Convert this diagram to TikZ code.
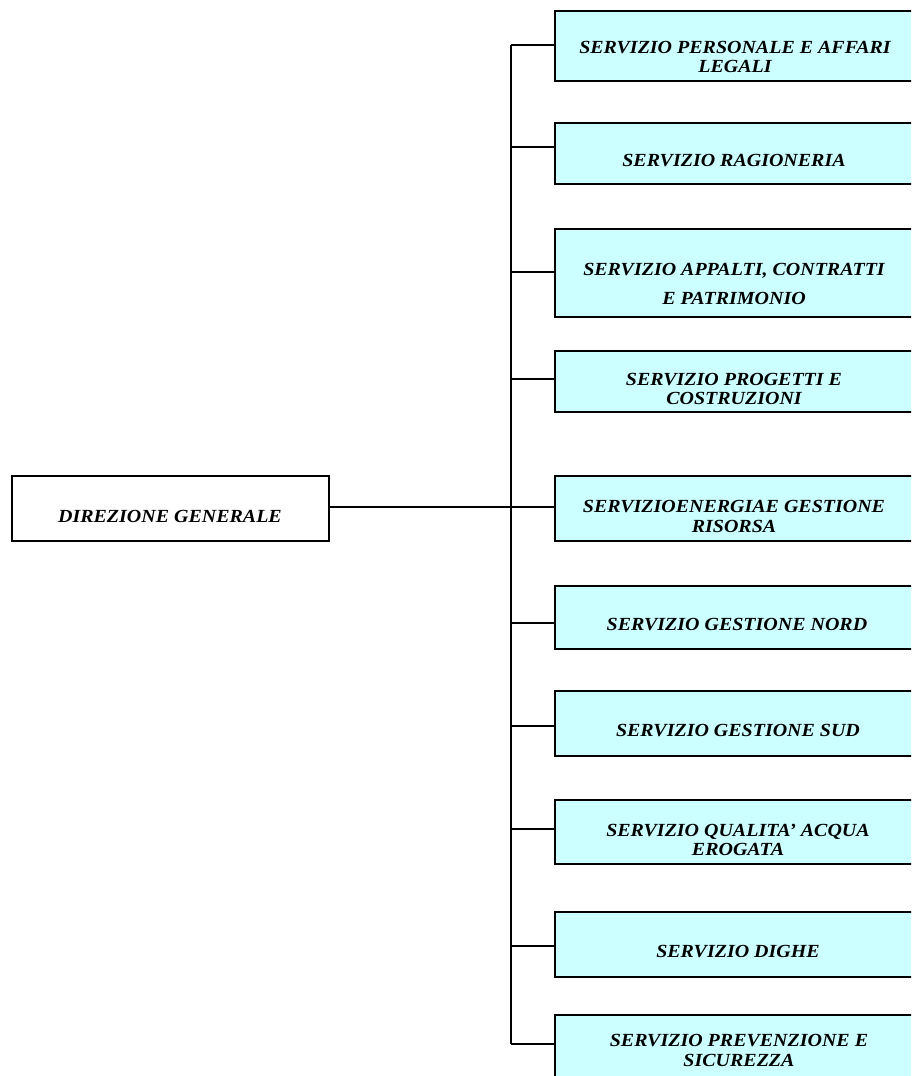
\documentclass[tikz,border=0pt]{standalone}
\usepackage{fontspec}
\newfontfamily\labelfont[FakeStretch=1.08]{Liberation Serif}
\definecolor{boxcyan}{RGB}{204,255,255}
\begin{document}
\begin{tikzpicture}[x=1pt,y=-1pt,
  servbox/.style={draw=black,line width=1.8pt,fill=boxcyan,rectangle,inner sep=0pt,minimum width=358pt},
  dirbox/.style={draw=black,line width=1.8pt,fill=white,rectangle,inner sep=0pt,minimum width=317pt,minimum height=65pt},
  lbl/.style={inner sep=0pt,align=center,font=\labelfont\fontsize{18.5}{19.5}\selectfont\bfseries\itshape},
  conn/.style={draw=black,line width=1.8pt}]
\useasboundingbox (0,0) rectangle (911,1076);
\clip (0,0) rectangle (911,1076);
\fill[white] (0,0) rectangle (911,1076);

% spine coordinates
\coordinate (s1) at (511,45);
\coordinate (s2) at (511,147);
\coordinate (s3) at (511,272);
\coordinate (s4) at (511,379);
\coordinate (s5) at (511,507);
\coordinate (s6) at (511,623);
\coordinate (s7) at (511,726);
\coordinate (s8) at (511,829);
\coordinate (s9) at (511,946);
\coordinate (s10) at (511,1044);

% connectors (drawn first, under the boxes)
\draw[conn] (s1) -- (s10);
\foreach \i in {1,...,10} {\draw[conn] (s\i) -- (555,0 |- s\i);}

% boxes
\node[servbox,minimum height=70pt] (b1) at (734,46) {};
\node[servbox,minimum height=61pt] (b2) at (734,153.5) {};
\node[servbox,minimum height=88pt] (b3) at (734,273) {};
\node[servbox,minimum height=61pt] (b4) at (734,381.5) {};
\node[servbox,minimum height=65pt] (b5) at (734,508.5) {};
\node[servbox,minimum height=63pt] (b6) at (734,617.5) {};
\node[servbox,minimum height=65pt] (b7) at (734,723.5) {};
\node[servbox,minimum height=64pt] (b8) at (734,832) {};
\node[servbox,minimum height=65pt] (b9) at (734,944.5) {};
\node[servbox,minimum height=75pt] (b10) at (734,1052.5) {};
\node[dirbox] (d) at (170.5,508.5) {};

% main connector
\coordinate (dj) at (329,507);
\draw[conn] (d.east |- dj) -- (s5);

% labels
\node[lbl] (t1) at (735,57) {SERVIZIO PERSONALE E AFFARI\\LEGALI};
\node[lbl] (t2) at (734,161) {SERVIZIO RAGIONERIA};
\node[lbl] (t3) at (734,284) {SERVIZIO APPALTI, CONTRATTI\\[10pt]E PATRIMONIO};
\node[lbl] (t4) at (734,389) {SERVIZIO PROGETTI E\\COSTRUZIONI};
\node[lbl] (t5) at (734,516.5) {SERVIZIOENERGIAE GESTIONE\\RISORSA};
\node[lbl] (t6) at (737,625) {SERVIZIO GESTIONE NORD};
\node[lbl] (t7) at (738,730.5) {SERVIZIO GESTIONE SUD};
\node[lbl] (t8) at (738,840) {SERVIZIO QUALITA’ ACQUA\\EROGATA};
\node[lbl] (t9) at (738,951.5) {SERVIZIO DIGHE};
\node[lbl] (t10) at (739,1050.5) {SERVIZIO PREVENZIONE E\\SICUREZZA};
\node[lbl] (td) at (170,516.5) {DIREZIONE GENERALE};
\end{tikzpicture}
\end{document}
